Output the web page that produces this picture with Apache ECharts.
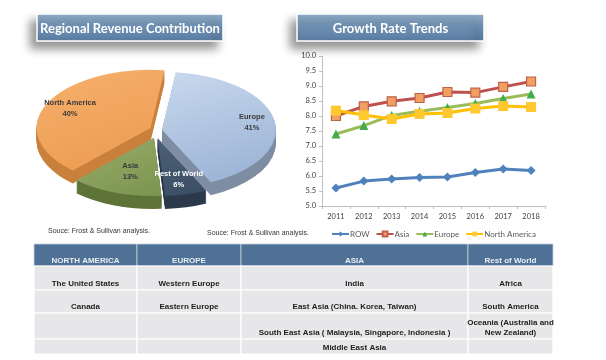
<!DOCTYPE html>
<html>
<head>
<meta charset="utf-8">
<script src="https://cdn.jsdelivr.net/npm/echarts@6/dist/echarts.min.js"></script>
<style>
html,body{margin:0;padding:0;background:#fff;}
#c{width:606px;height:360px;}
</style>
</head>
<body>
<div id="c"></div>
<script>
// ---------- DATA ----------
const years = ['2011','2012','2013','2014','2015','2016','2017','2018'];
const rowValues    = [5.60, 5.83, 5.90, 5.95, 5.97, 6.12, 6.23, 6.18];
const asiaValues   = [8.00, 8.32, 8.49, 8.60, 8.80, 8.78, 8.97, 9.15];
const europeValues = [7.40, 7.68, 8.02, 8.16, 8.28, 8.42, 8.58, 8.73];
const naValues     = [8.18, 8.03, 7.90, 8.07, 8.10, 8.25, 8.33, 8.30];
const seriesNames  = ['ROW', 'Asia', 'Europe', 'North America'];

const pieNames  = ['Europe', 'Rest of World', 'Asia', 'North America'];
const pieValues = [41, 6, 13, 40];

const tableHeader = ['NORTH AMERICA', 'EUROPE', 'ASIA', 'Rest of World'];
const tableRows = [
  ['The United States', 'Western Europe', 'India', 'Africa'],
  ['Canada', 'Eastern Europe', 'East Asia (China. Korea, Taiwan)', 'South America'],
  ['', '', 'South East Asia ( Malaysia, Singapore, Indonesia )', 'Oceania (Australia and\nNew Zealand)'],
  ['', '', 'Middle East Asia', '']
];
const sourceText = 'Souce: Frost & Sullivan analysis.';
const titles = ['Regional Revenue Contribution', 'Growth Rate Trends'];

// ---------- LAYOUT / STYLE ----------
const PIE = {cx: 156, cy: 131, r: 114, k: 0.51, depth: 13, explode: 6, start: -83};
const pieTop  = [['#c9d9ee', '#97b0d3'], ['#4d6178', '#3a4d63'], ['#97ad6a', '#7b9450'], ['#f6b06c', '#eb9a4f']];
const pieSide = ['#7f8da3', '#2c3a4c', '#5f7438', '#c9803c'];
const pieLabelColor = ['#3a3a3a', '#ffffff', '#3a3a3a', '#3a3a3a'];
const pieLabelR = [0.8, 0.74, 0.62, 0.78];

const colX = [34, 137, 241, 468, 553];
const rowY = [244, 266, 290, 313, 339, 354];
const TFONT = 'bold 8px "Liberation Sans Narrow", "Arial Narrow", "Liberation Sans", sans-serif';

const pieTotal = pieValues.reduce((a, b) => a + b, 0);

function renderPie(params, api) {
  const i = params.dataIndex;
  let startDeg = PIE.start;
  for (let j = 0; j < i; j++) startDeg += pieValues[j] / pieTotal * 360;
  const spanDeg = api.value(0) / pieTotal * 360;
  const a0 = startDeg * Math.PI / 180, a1 = (startDeg + spanDeg) * Math.PI / 180;
  const mid = (a0 + a1) / 2;
  const cx = PIE.cx + Math.cos(mid) * PIE.explode;
  const cy = PIE.cy + Math.sin(mid) * PIE.explode * 1.2;
  const children = [];
  for (let d = PIE.depth; d >= 1; d--) {
    children.push({
      type: 'sector',
      shape: {cx: cx, cy: 0, r: PIE.r, r0: 0, startAngle: a0, endAngle: a1, clockwise: true},
      x: 0, y: cy + d, scaleY: PIE.k, originX: 0, originY: 0,
      style: {fill: pieSide[i]},
      z2: 1
    });
  }
  children.push({
    type: 'sector',
    shape: {cx: cx, cy: 0, r: PIE.r, r0: 0, startAngle: a0, endAngle: a1, clockwise: true},
    x: 0, y: cy, scaleY: PIE.k, originX: 0, originY: 0,
    style: {
      fill: {type: 'linear', x: 0, y: 0, x2: 1, y2: 1,
        colorStops: [{offset: 0, color: pieTop[i][0]}, {offset: 1, color: pieTop[i][1]}]}
    },
    z2: 10
  });
  const lr = pieLabelR[i];
  children.push({
    type: 'text',
    x: cx + Math.cos(mid) * PIE.r * lr,
    y: cy + Math.sin(mid) * PIE.r * lr * PIE.k,
    style: {
      text: pieNames[i] + '\n' + api.value(0) + '%',
      fill: pieLabelColor[i],
      font: 'bold 7.5px "Liberation Sans Narrow", "Liberation Sans", sans-serif',
      align: 'center', verticalAlign: 'middle', lineHeight: 11
    },
    z2: 100
  });
  return {type: 'group', children: children};
}

// ---------- GRAPHICS (titles, sources, table) ----------
const graphics = [];
const titleBoxes = [[37, 14, 186, 27], [297, 14, 187, 27]];
titles.forEach((t, i) => {
  const b = titleBoxes[i];
  graphics.push({
    type: 'rect', shape: {x: b[0], y: b[1], width: b[2], height: b[3]},
    style: {
      fill: {type: 'linear', x: 0, y: 0, x2: 0, y2: 1,
        colorStops: [{offset: 0, color: '#93b0cc'}, {offset: 0.5, color: '#6e90b3'}, {offset: 1, color: '#587b9f'}]},
      stroke: '#ffffff', lineWidth: 1.5,
      shadowBlur: 10, shadowOffsetX: -6, shadowOffsetY: 7, shadowColor: 'rgba(0,0,0,0.42)'
    },
    z: 10
  });
  graphics.push({
    type: 'text', x: b[0] + b[2] / 2, y: b[1] + b[3] / 2 + 1,
    style: {text: t, fill: '#ffffff', font: 'bold 13px Lato, "Open Sans", sans-serif',
      align: 'center', verticalAlign: 'middle'},
    z: 11
  });
});
[[48, 231], [207, 233]].forEach(p => {
  graphics.push({
    type: 'text', x: p[0], y: p[1],
    style: {text: sourceText, fill: '#333333',
      font: '7px "Liberation Sans Narrow", "Liberation Sans", sans-serif', verticalAlign: 'middle'},
    z: 11
  });
});
// table
for (let c = 0; c < tableHeader.length; c++) {
  graphics.push({
    type: 'rect', shape: {x: colX[c], y: rowY[0], width: colX[c + 1] - colX[c], height: rowY[1] - rowY[0]},
    style: {fill: '#4e7195', stroke: '#c9d3df', lineWidth: 0.8}, z: 5
  });
  graphics.push({
    type: 'text', x: (colX[c] + colX[c + 1]) / 2, y: rowY[1] - 1,
    style: {text: tableHeader[c], fill: '#e9eef4', font: TFONT, align: 'center', verticalAlign: 'bottom'}, z: 6
  });
}
tableRows.forEach((row, r) => {
  row.forEach((cell, c) => {
    graphics.push({
      type: 'rect', shape: {x: colX[c], y: rowY[r + 1], width: colX[c + 1] - colX[c], height: rowY[r + 2] - rowY[r + 1]},
      style: {fill: '#e7e7e9', stroke: '#ffffff', lineWidth: 1.2}, z: 5
    });
    if (cell) {
      graphics.push({
        type: 'text', x: (colX[c] + colX[c + 1]) / 2, y: rowY[r + 2] - 1,
        style: {text: cell, fill: '#1e1e1e', font: TFONT, align: 'center', verticalAlign: 'bottom', lineHeight: 10}, z: 6
      });
    }
  });
});

// ---------- CHART ----------
const chart = echarts.init(document.getElementById('c'), null, {renderer: 'canvas'});
chart.setOption({
  backgroundColor: '#ffffff',
  animation: false,
  textStyle: {fontFamily: '"Liberation Sans Narrow", "Liberation Sans", sans-serif'},
  grid: {left: 322, top: 56, width: 223, height: 150},
  legend: {
    data: seriesNames, left: 331, top: 230, itemWidth: 17, itemHeight: 6, itemGap: 6, padding: 0,
    textStyle: {fontSize: 8, color: '#595959', fontFamily: 'Lato, "Open Sans", sans-serif', padding: [0, 0, 0, -4]}
  },
  xAxis: {
    type: 'category', data: years, boundaryGap: true,
    axisLine: {lineStyle: {color: '#bfbfbf'}},
    axisTick: {show: true, length: 3, lineStyle: {color: '#bfbfbf'}},
    axisLabel: {fontSize: 7.5, color: '#404040', margin: 7, fontFamily: 'Lato, "Open Sans", sans-serif'}
  },
  yAxis: {
    type: 'value', min: 5, max: 10, interval: 0.5,
    axisLine: {show: true, lineStyle: {color: '#bfbfbf'}},
    axisTick: {show: true, length: 3, lineStyle: {color: '#bfbfbf'}},
    splitLine: {show: false},
    axisLabel: {fontSize: 7.5, color: '#404040', margin: 6, formatter: v => v.toFixed(1),
      fontFamily: 'Lato, "Open Sans", sans-serif'}
  },
  graphic: graphics,
  series: [
    {name: 'ROW', type: 'line', data: rowValues, symbol: 'diamond', symbolSize: 9,
      lineStyle: {color: '#4f81bd', width: 3}, itemStyle: {color: '#4f81bd'}},
    {name: 'Asia', type: 'line', data: asiaValues, symbol: 'rect', symbolSize: 9,
      lineStyle: {color: '#c0504d', width: 3}, itemStyle: {color: '#f0a060', borderColor: '#c0604d', borderWidth: 1.2}},
    {name: 'Europe', type: 'line', data: europeValues, symbol: 'triangle', symbolSize: 9,
      lineStyle: {color: '#9bbb59', width: 3}, itemStyle: {color: '#3fae4a'}},
    {name: 'North America', type: 'line', data: naValues, symbol: 'rect', symbolSize: 10,
      lineStyle: {color: '#ffc000', width: 3}, itemStyle: {color: '#ffc830'}},
    {name: 'pie', type: 'custom', coordinateSystem: 'none', renderItem: renderPie,
      data: pieValues.map(v => [v]), silent: true, z: 3}
  ]
});
</script>
</body>
</html>
